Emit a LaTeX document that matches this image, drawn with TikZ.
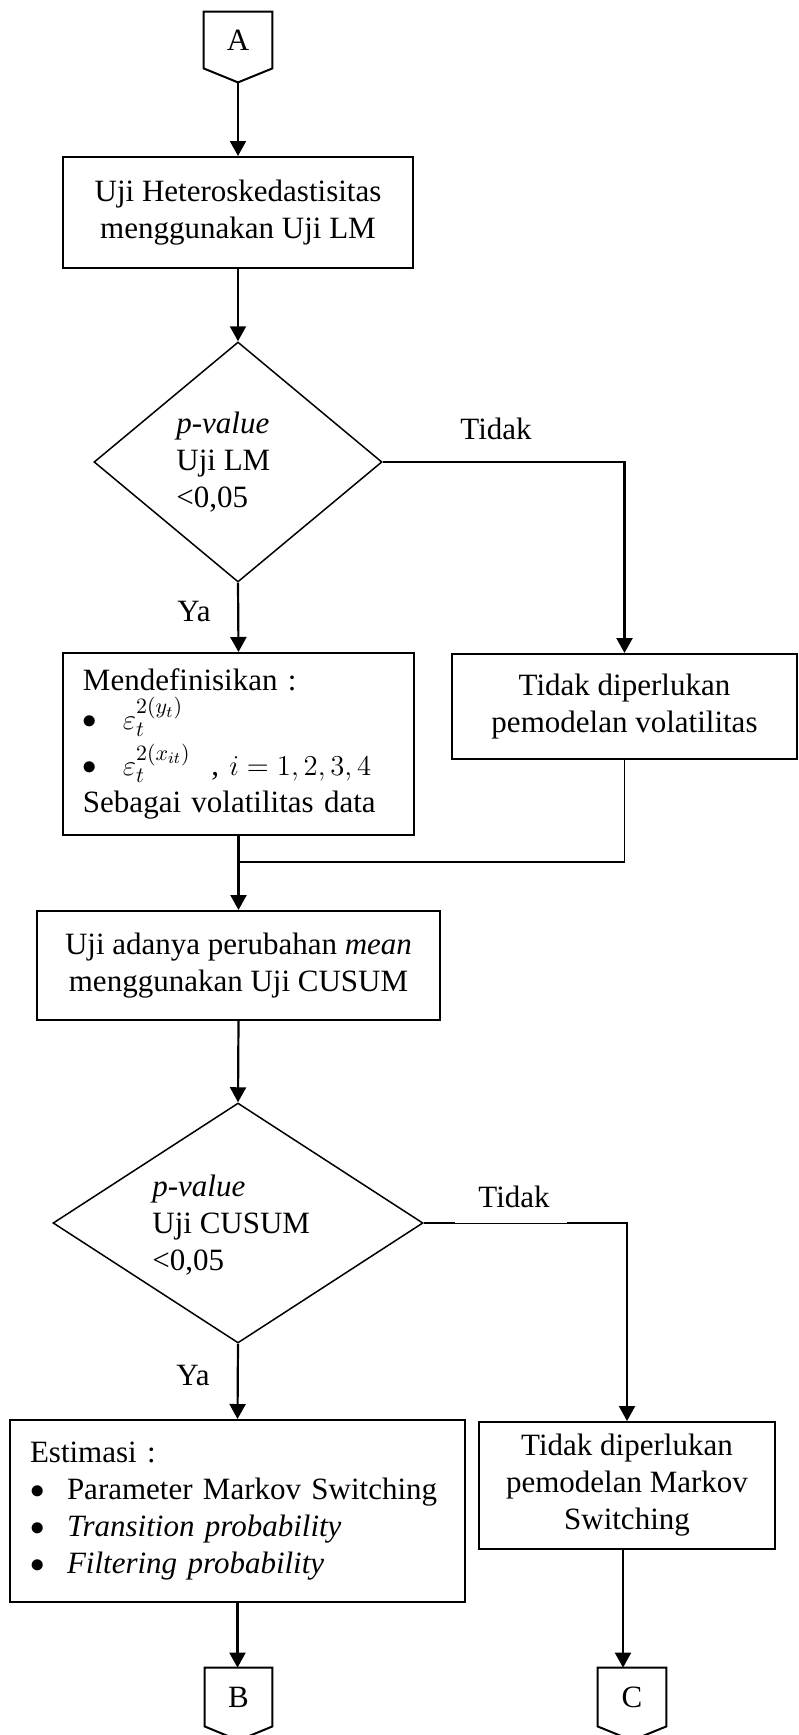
\documentclass[tikz,border=0pt]{standalone}
\usepackage{fontspec}
\setmainfont{Liberation Serif}
\usetikzlibrary{shapes.geometric,arrows.meta,calc}
\newcommand{\bigbul}{\raisebox{0.5pt}{$\bullet$}}
\begin{document}
\begin{tikzpicture}[x=0.5pt,y=-0.5pt,
  every node/.style={font=\fontsize{15.5pt}{18.5pt}\selectfont},
  box/.style={draw,line width=1pt,rectangle,inner sep=0pt,align=center},
  dia/.style={draw,line width=0.75pt,diamond,inner sep=0pt},
  arr/.style={line width=1.1pt,-{Triangle[width=8pt,length=7.5pt]}},
  ln/.style={line width=0.9pt},
  off/.style={inner sep=0pt,minimum width=34pt,minimum height=28pt},
  lbl/.style={inner sep=0pt},
  dtext/.style={anchor=west,align=left,inner sep=0pt}
]
\useasboundingbox (0,0) rectangle (798,1735);

% off-page connectors
\node[off] (A) at (238,40) {A};
\node[off,minimum width=33.5pt,minimum height=29pt] (B) at (238.5,1697) {B};
\node[off,minimum width=34pt,minimum height=29pt] (C) at (632,1697) {C};
\foreach \n in {A,B,C}
  \draw[line width=1pt] (\n.north west) -- (\n.north east) -- (\n.south east)
     -- ($(\n.south)+(0,14)$) -- (\n.south west) -- cycle;
\coordinate (At) at ($(A.south)+(0,14)$);

% boxes
\node[box,minimum width=175pt,minimum height=55.5pt] (b1) at (238,212.5)
  {Uji Heteroskedastisitas\\menggunakan Uji LM};

\node[dia,minimum width=144pt,minimum height=120pt] (d1) at (238,462) {};
\node[dtext] (d1t) at (176,462) {\textit{p-value}\\Uji LM\\<0,05};

\node[box,align=left,text width=155.5pt,minimum width=175.5pt,minimum height=91pt] (b2) at (238.5,744)
  {Mendefinisikan :\\[1pt]
   \makebox[20pt][l]{\bigbul}$\varepsilon_t^{2(y_t)}$\\[3pt]
   \makebox[20pt][l]{\bigbul}$\varepsilon_t^{2(x_{it})}$\ \ , $i=1,2,3,4$\\
   Sebagai volatilitas data};

\node[box,minimum width=172.5pt,minimum height=52.5pt] (R1) at (624.5,706.5)
  {Tidak diperlukan\\pemodelan volatilitas};

\node[box,minimum width=201.5pt,minimum height=54.5pt] (b3) at (238.5,965.5)
  {Uji adanya perubahan \textit{mean}\\menggunakan Uji CUSUM};

\node[dia,minimum width=185pt,minimum height=120pt] (d2) at (238,1223) {};
\node[dtext] (d2t) at (152,1225) {\textit{p-value}\\Uji CUSUM\\<0,05};

\node[box,align=left,text width=207.5pt,minimum width=227.5pt,minimum height=91pt] (b4) at (237.5,1511)
  {Estimasi :\\
   \makebox[18.5pt][l]{\bigbul}Parameter Markov Switching\\
   \makebox[18.5pt][l]{\bigbul}\textit{Transition probability}\\
   \makebox[18.5pt][l]{\bigbul}\textit{Filtering probability}};

\node[box,minimum width=148pt,minimum height=63.5pt] (R2) at (627,1485.5)
  {Tidak diperlukan\\pemodelan Markov\\Switching};

% labels
\node[lbl] (t1) at (496,429) {Tidak};
\node[lbl] (y1) at (194,611) {Ya};
\node[lbl] (t2) at (514,1197) {Tidak};
\node[lbl] (y2) at (193,1375) {Ya};

% connectors
\draw[arr] (At) -- (b1.north);
\draw[arr] (b1.south) -- (d1.north);
\draw[arr] (d1.east) -| (R1.north);
\draw[arr] (d1.south) -- (b2.north);
\coordinate (j1) at (238.5,862);
\draw[ln] (R1.south) |- (j1);
\draw[arr] (b2.south) -- (b3.north);
\draw[arr] (b3.south) -- (d2.north);
\draw[arr] (d2.east) -| (R2.north);
\draw[white,line width=1.3pt] (455,1223) -- (567,1223);
\draw[line width=0.5pt] (452,1223) -- (570,1223);
\draw[arr] (d2.south) -- (b4.north);
\draw[arr] (b4.south) -- (b4.south |- B.north);
\draw[arr] ([xshift=-2pt]R2.south) -- ([xshift=-2pt]R2.south |- C.north);
\end{tikzpicture}
\end{document}
